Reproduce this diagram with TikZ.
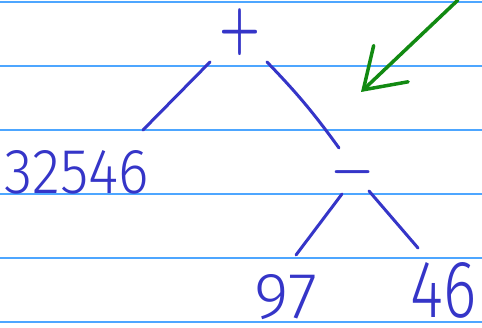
\documentclass[tikz,border=0pt]{standalone}
\usepackage[no-math]{fontspec}
\setmainfont{Fira Sans}[UprightFont=* Light]
\usepackage{graphicx}
\usepackage{xcolor}
\usetikzlibrary{arrows.meta}
\definecolor{inkBlue}{HTML}{3535C8}
\definecolor{ruleBlue}{HTML}{4DA6FF}
\definecolor{penGreen}{HTML}{128A12}
\newcommand{\handtext}[3]{\resizebox{#1}{#2}{#3}}

\begin{document}
\begin{tikzpicture}[x=1pt, y=-1pt,
    ink/.style={text=inkBlue, inner sep=0pt},
    stroke/.style={draw=inkBlue, line width=3pt, line cap=round},
    rule/.style={draw=ruleBlue, line width=1.5pt},
    pointer/.style={draw=penGreen, line width=3.5pt, line cap=round,
      -{Straight Barb[length=38pt, width=50pt, line cap=round]}}]
    \useasboundingbox (0,0) rectangle (482,328);
    \fill[white] (0,0) rectangle (482,328);
    % Ruled notebook lines
    \foreach \y in {2,66,130,194,258,322} {
      \draw[rule] (0,\y) -- (482,\y);
    }
    % Tree nodes
    \node[ink] (plus) at (240,32) {\resizebox*{41pt}{47pt}{\boldmath$+$}};
    \node[ink] (left) at (77,172) {\handtext{144pt}{43pt}{32546}};
    \node[ink] (minus) at (353,172) {\scalebox{4.95}{\boldmath$-$}};
    \node[ink] (n97) at (286,297) {\handtext{62pt}{44pt}{97}};
    \node[ink] (n46) at (444,290) {\handtext{66pt}{55pt}{46}};
    % Branches
    \draw[stroke] ([shift={(-30,30)}]plus.center) -- ([shift={(66,-42)}]left.center);
    \draw[stroke] ([shift={(27,30)}]plus.center) to[bend left=4] ([shift={(-14,-24)}]minus.center);
    \draw[stroke] ([shift={(-11,22)}]minus.center) -- ([shift={(10,-42)}]n97.center);
    \draw[stroke] ([shift={(16,19)}]minus.center) -- ([shift={(-26,-42)}]n46.center);
    % Green pointer arrow
    \coordinate (tail) at (458,0);
    \coordinate (tip) at (361,92);
    \draw[pointer] (tail) -- (tip);
\end{tikzpicture}
\end{document}
